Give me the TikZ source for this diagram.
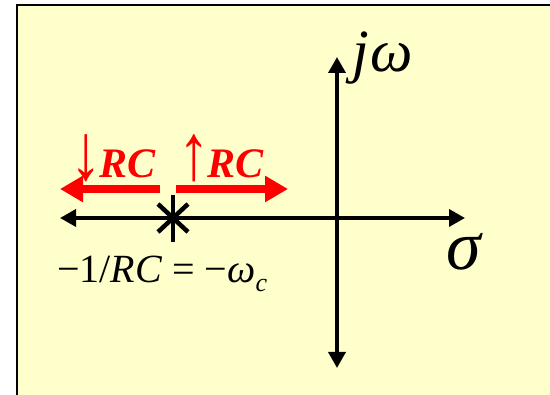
\documentclass[tikz,border=0pt]{standalone}
\usepackage{fontspec}
\setmainfont{Liberation Serif}
\usetikzlibrary{arrows.meta}
\newcommand{\bigarrow}[1]{\kern-2pt\raisebox{-2pt}{\mdseries\upshape\scalebox{1.5}[1.9]{#1}}\kern-2pt}
\begin{document}
\begin{tikzpicture}[x=1pt,y=-1pt,
  axis/.style={line width=3.6pt,{Triangle[length=16pt,width=17pt]}-{Triangle[length=16pt,width=17pt]}},
  redarr/.style={line width=8pt,red,-{Triangle[length=23pt,width=25pt]}},
  redlbl/.style={text=red,font=\fontsize{42}{42}\selectfont\bfseries\itshape,anchor=base west,inner sep=0pt},
  biglbl/.style={font=\fontsize{60}{60}\selectfont\itshape,anchor=base west,inner sep=0pt},
  marker/.style={line width=4.5pt}]
\useasboundingbox (0,0) rectangle (550,395);
\clip (0,0) rectangle (550,395);
\fill[white] (0,0) rectangle (550,395);
\draw[line width=2pt,fill={rgb,255:red,255;green,255;blue,204}] (17,5) rectangle (560,405);
% axes
\coordinate (hl) at (60,218);
\coordinate (hr) at (465,218);
\coordinate (vt) at (337,57);
\coordinate (vb) at (337,368);
\draw[axis] (hl) -- (hr);
\draw[axis] (vb) -- (vt);
\node[biglbl] (jw) at (352,72) {j\kern2pt ω};
\node[biglbl,font=\fontsize{70}{70}\selectfont\itshape] (sig) at (446,270) {σ};
% red arrows
\coordinate (ls) at (160,189);
\coordinate (le) at (60,189);
\coordinate (rs) at (176,189);
\coordinate (re) at (288,189);
\draw[redarr] (ls) -- (le);
\draw[redarr] (rs) -- (re);
\node[redlbl] (down) at (72,178) {\bigarrow{↓}RC};
\node[redlbl] (up) at (180,178) {\bigarrow{↑}RC};
% pole
\coordinate (p) at (173,218);
\draw[marker] ([shift={(-15,-14)}]p) -- ([shift={(15,14)}]p);
\draw[marker] ([shift={(-15,14)}]p) -- ([shift={(15,-14)}]p);
\draw[line width=3.5pt] ([shift={(0,-23)}]p) -- ([shift={(0,24)}]p);
\node[anchor=base west,inner sep=0pt,font=\fontsize{40}{40}\selectfont] (lbl) at (57,283)
  {−1/\textit{RC} = −\textit{ω}\raisebox{-9pt}{\fontsize{26}{26}\selectfont\itshape c}};
\end{tikzpicture}
\end{document}
